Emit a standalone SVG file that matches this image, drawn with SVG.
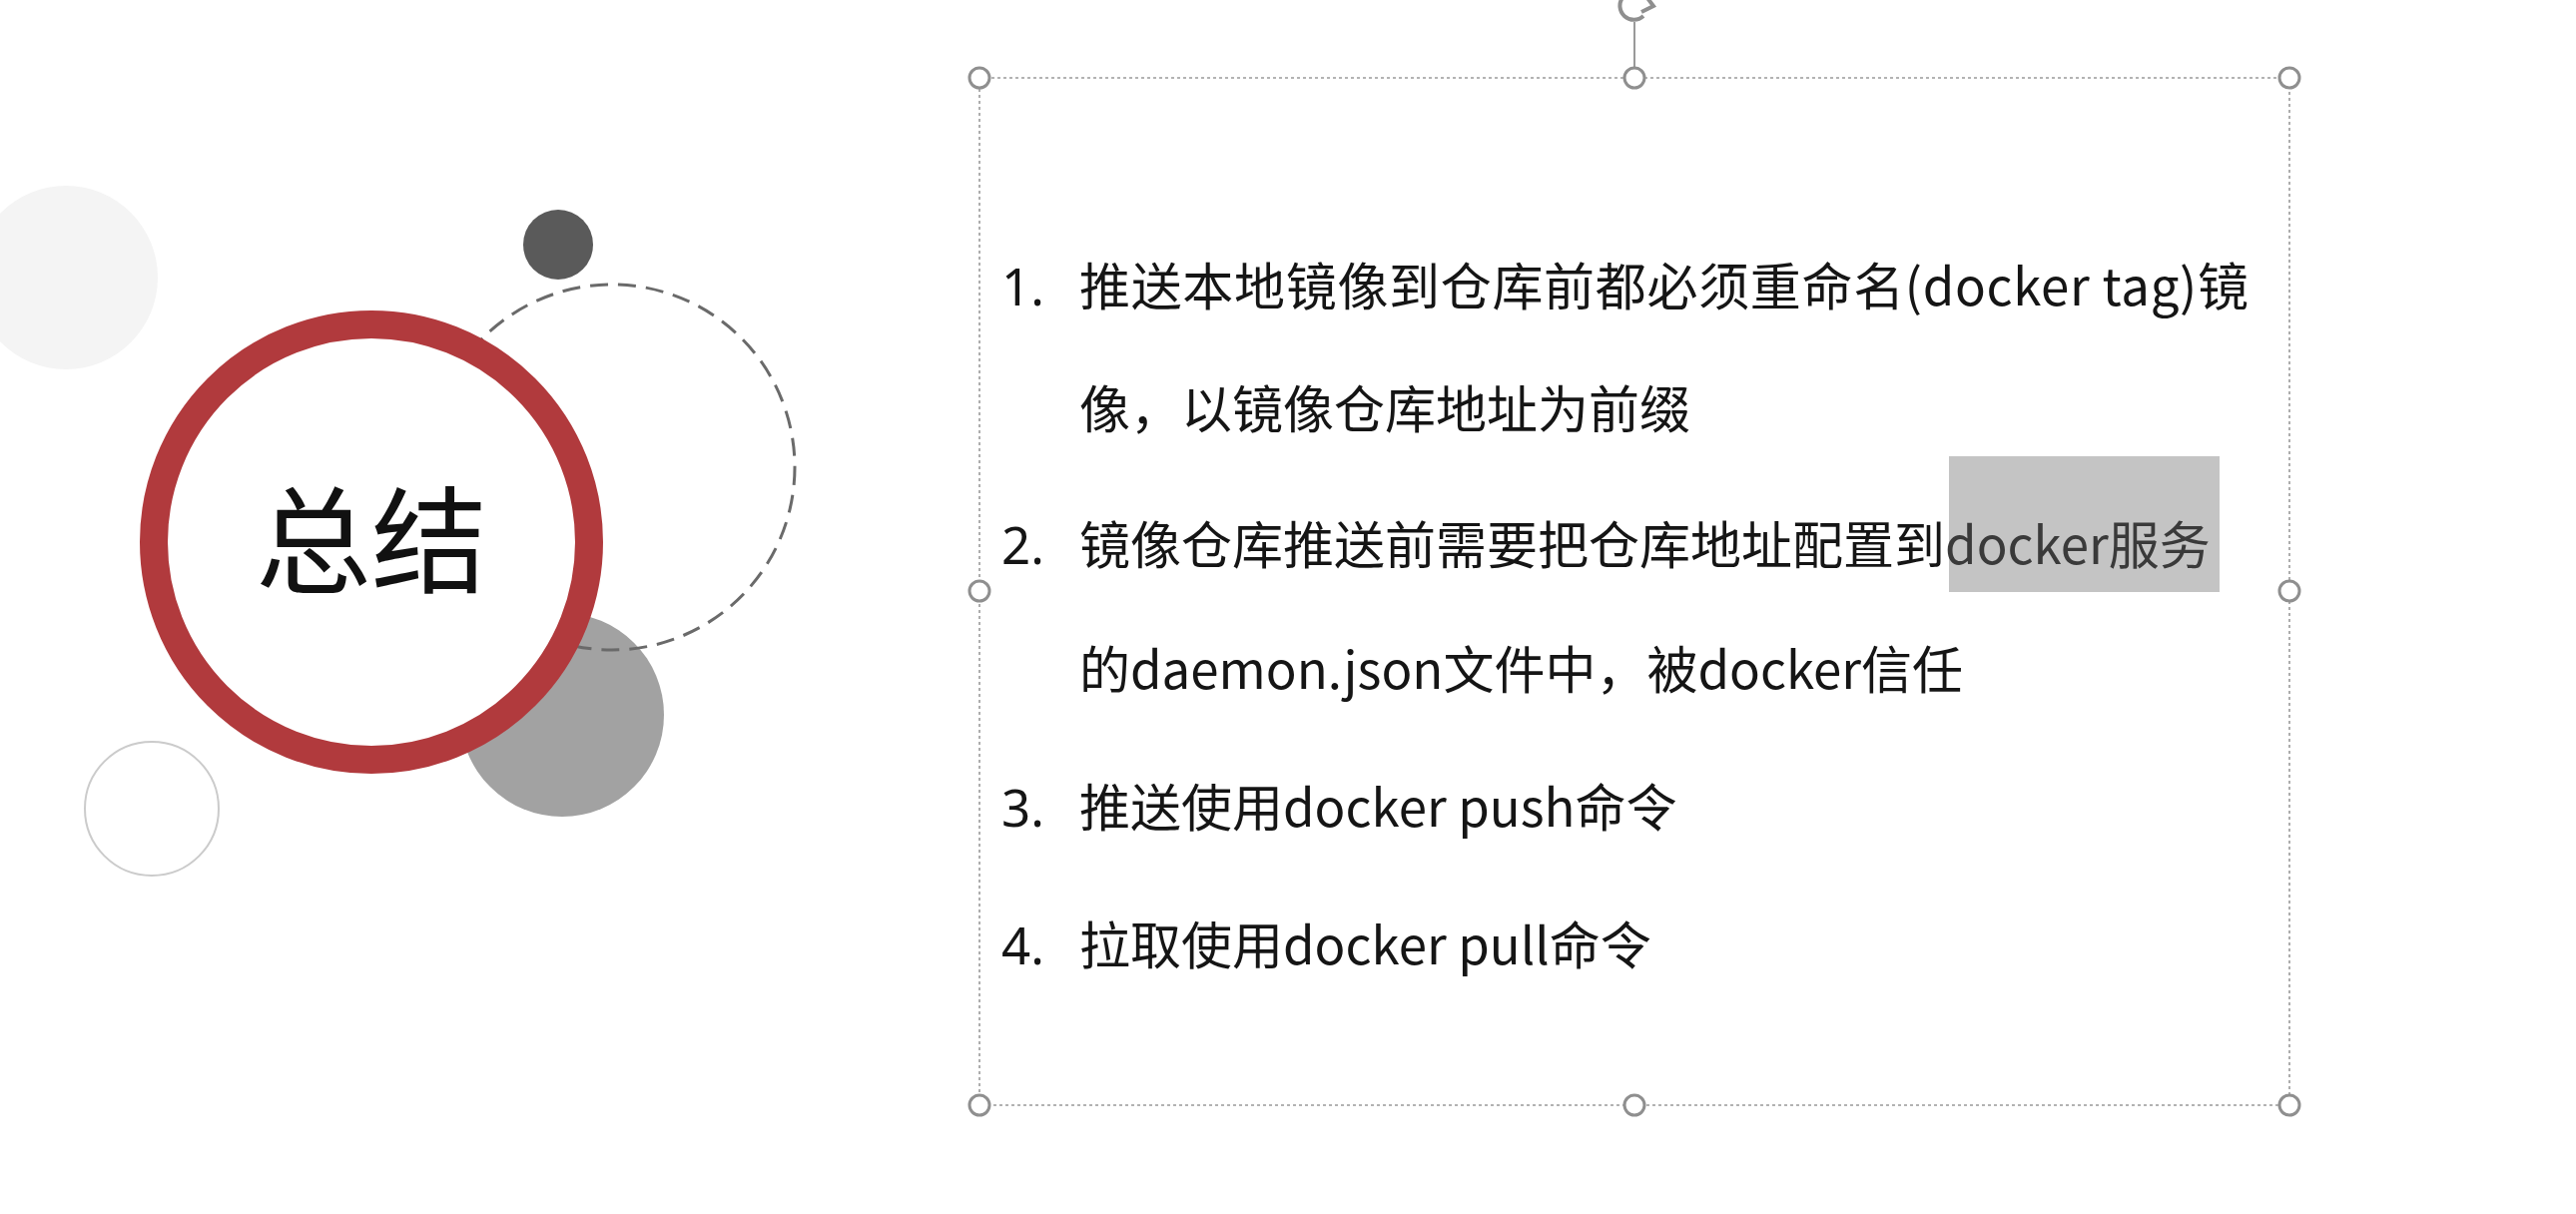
<svg xmlns="http://www.w3.org/2000/svg" width="2580" height="1216" viewBox="0 0 2580 1216">
<style>
.body{font-family:"Noto Sans CJK SC","Noto Sans",sans-serif;font-size:51px;fill:#151515}
.num{font-family:"Noto Sans","Noto Sans CJK SC",sans-serif;font-size:51px;fill:#151515}
.handle{fill:#ffffff;stroke:#8f8f8f;stroke-width:3}
.sel{fill:none;stroke:#9a9a9a;stroke-width:1.6;stroke-dasharray:3 3}
</style>
<rect x="0" y="0" width="2580" height="1216" fill="#ffffff"/>
<g id="decor">
<circle id="faint-circle" cx="66" cy="278" r="92" fill="#f4f4f4"/>
<circle id="dark-dot" cx="559" cy="245" r="35" fill="#5a5a5a"/>
<circle id="gray-circle" cx="563" cy="716" r="102" fill="#a2a2a2"/>
<circle id="dashed-circle" cx="613" cy="468" r="183" fill="none" stroke="#6a6a6a" stroke-width="3" stroke-dasharray="18 10"/>
<circle id="outline-circle" cx="152" cy="810" r="67" fill="none" stroke="#cbcbcb" stroke-width="2"/>
</g>
<g id="title">
<circle cx="372" cy="543" r="218" fill="#ffffff" stroke="#b13a3d" stroke-width="28"/>
<text x="372" y="585" text-anchor="middle" font-family="'Noto Sans CJK SC','Noto Sans',sans-serif" font-size="116" fill="#111111">总结</text>
</g>
<g id="selection">
<rect class="sel" x="981" y="78" width="1312" height="1029"/>
<line x1="1637" y1="22" x2="1637" y2="78" stroke="#9a9a9a" stroke-width="2"/>
<path d="M1644,-6 A14,14 0 1 0 1646,16" fill="none" stroke="#8f8f8f" stroke-width="4"/>
<path d="M1644,12 L1656,6 L1650,-2" fill="none" stroke="#8f8f8f" stroke-width="4"/>
<circle class="handle" cx="981" cy="78" r="10"/>
<circle class="handle" cx="1637" cy="78" r="10"/>
<circle class="handle" cx="2293" cy="78" r="10"/>
<circle class="handle" cx="981" cy="592" r="10"/>
<circle class="handle" cx="2293" cy="592" r="10"/>
<circle class="handle" cx="981" cy="1107" r="10"/>
<circle class="handle" cx="1637" cy="1107" r="10"/>
<circle class="handle" cx="2293" cy="1107" r="10"/>
</g>
<rect id="highlight" x="1952" y="457" width="271" height="136" fill="#c4c4c4"/>
<g id="item1">
<text class="num" x="1003" y="306">1.</text>
<text class="body" x="1081" y="306" textLength="1171" lengthAdjust="spacing">推送本地镜像到仓库前都必须重命名(docker tag)镜</text>
<text class="body" x="1081" y="429">像，以镜像仓库地址为前缀</text>
</g>
<g id="item2">
<text class="num" x="1003" y="565">2.</text>
<text class="body" x="1081" y="565">镜像仓库推送前需要把仓库地址配置到<tspan fill="#3a3a3a">docker服务</tspan></text>
<text class="body" x="1081" y="690">的daemon.json文件中，被docker信任</text>
</g>
<g id="item3">
<text class="num" x="1003" y="828">3.</text>
<text class="body" x="1081" y="828">推送使用docker push命令</text>
</g>
<g id="item4">
<text class="num" x="1003" y="966">4.</text>
<text class="body" x="1081" y="966">拉取使用docker pull命令</text>
</g>
<g id="connectors"></g>
</svg>
